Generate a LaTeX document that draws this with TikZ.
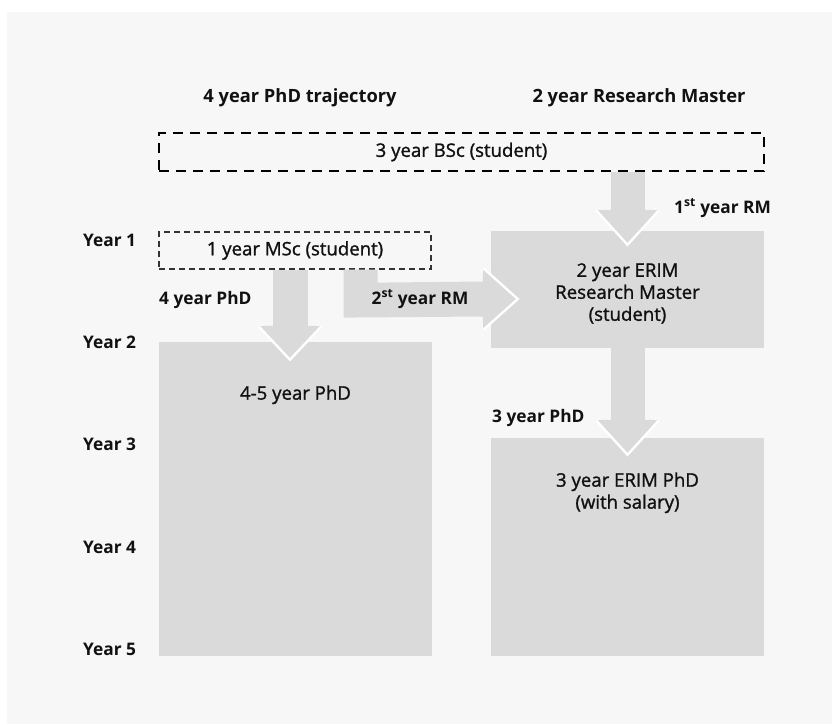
\documentclass[tikz,border=0pt]{standalone}
\usepackage{fontspec}
\setmainfont{Open Sans}
\newfontfamily\medfont[FakeBold=1.3]{Open Sans}
\usetikzlibrary{positioning,calc}

\definecolor{bggray}{HTML}{F7F7F7}
\definecolor{boxgray}{HTML}{DADADA}
\definecolor{inkblack}{HTML}{111111}

\tikzset{
    coltitle/.style={font=\bfseries\fontsize{18.3}{21}\selectfont, text=inkblack, inner sep=0pt},
    yearlabel/.style={font=\bfseries\fontsize{17.3}{20}\selectfont, text=inkblack, inner sep=0pt, anchor=west},
    flowlabel/.style={font=\bfseries\fontsize{17.3}{20}\selectfont, text=inkblack, inner sep=0pt},
    boxtext/.style={font=\medfont\fontsize{18.6}{22}\selectfont, text=inkblack, inner sep=0pt, align=center},
    dashbox/.style={draw=black, line width=1.9pt, dash pattern=on 10pt off 7pt, inner sep=0pt, font=\medfont\fontsize{18.6}{22}\selectfont, text=inkblack},
    thindashbox/.style={draw=black!80, line width=1.2pt, dash pattern=on 6pt off 4pt, inner sep=0pt, font=\medfont\fontsize{18.6}{22}\selectfont, text=inkblack},
    greybox/.style={fill=boxgray, inner sep=0pt},
    arrowbody/.style={fill=boxgray},
    arrowhalo/.style={draw=white, line width=5pt, line join=miter},
}

\begin{document}
\begin{tikzpicture}[x=1pt, y=-1pt]

    % canvas
    \useasboundingbox (0,0) rectangle (832,724);
    \fill [white] (0,0) rectangle (832,724);
    \fill [bggray] (7,12) rectangle (832,724);

    % column titles
    \node [coltitle] (phdtitle) at (300,98) {4 year PhD trajectory};
    \node [coltitle] (rmtitle) at (639,98) {2 year Research Master};

    % years
    \foreach \n/\y in {1/240, 2/342, 3/444, 4/547, 5/649}
        \node [yearlabel] (year\n) at (83,\y) {Year \n};

    % boxes
    \node [dashbox, minimum width=605pt, minimum height=38pt]
        (bsc) at (461.5,152) {3 year BSc (student)};
    \node [thindashbox, minimum width=272pt, minimum height=37pt]
        (msc) at (295,250.5) {1 year MSc (student)};
    \node [greybox, minimum width=273pt, minimum height=117pt]
        (rm) at (627.5,289.5) {};
    \node [greybox, minimum width=273pt, minimum height=314pt]
        (phd) at (295.5,499) {};
    \node [greybox, minimum width=273pt, minimum height=218pt]
        (erim) at (627.5,547) {};

    % bsc -> rm
    \fill [arrowbody]
        ($(bsc.south -| rm.north)+(-17,0)$)
        rectangle
        ($(rm.north)+(17,-19)$);
    \draw [arrowhalo]
        ($(rm.north)+(-30,-21)$) -- ($(rm.north)+(0,12)$) -- ($(rm.north)+(30,-21)$);
    \fill [arrowbody]
        ($(rm.north)+(-30,-21)$) -- ($(rm.north)+(0,12)$) -- ($(rm.north)+(30,-21)$) -- cycle;

    % msc -> phd
    \fill [arrowbody]
        ($(msc.south)+(-22,0)$)
        rectangle
        ($(phd.north)+(12,-14)$);
    \draw [arrowhalo]
        ($(phd.north)+(-35.5,-16)$) -- ($(phd.north)+(-5.5,16)$) -- ($(phd.north)+(24.5,-16)$);
    \fill [arrowbody]
        ($(phd.north)+(-35.5,-16)$) -- ($(phd.north)+(-5.5,16)$) -- ($(phd.north)+(24.5,-16)$) -- cycle;

    % msc -> rm
    \fill [arrowbody]
        ($(msc.south east)+(-88,0)$)
        -- ($(msc.south east)+(-54,0)$)
        -- ($(msc.south east)+(-54,13)$)
        -- ($(rm.west)+(-8,-8)$)
        -- ($(rm.west)+(-8,27)$)
        -- ($(msc.south east)+(-88,48)$)
        -- cycle;
    \draw [arrowhalo]
        ($(rm.west)+(-8,-20)$) -- ($(rm.west)+(25,9.5)$) -- ($(rm.west)+(-8,39)$);
    \fill [arrowbody]
        ($(rm.west)+(-8,-20)$) -- ($(rm.west)+(25,9.5)$) -- ($(rm.west)+(-8,39)$) -- cycle;

    % rm -> erim
    \fill [arrowbody]
        ($(rm.south)+(-17,0)$)
        rectangle
        ($(erim.north)+(17,-16)$);
    \draw [arrowhalo]
        ($(erim.north)+(-30,-18)$) -- ($(erim.north)+(0,15)$) -- ($(erim.north)+(30,-18)$);
    \fill [arrowbody]
        ($(erim.north)+(-30,-18)$) -- ($(erim.north)+(0,15)$) -- ($(erim.north)+(30,-18)$) -- cycle;

    % box texts
    \node [boxtext] (rmtext) at ($(rm.center)+(0,4)$)
        {2 year ERIM\\Research Master\\(student)};
    \node [boxtext] (phdtext) at ($(phd.north)+(0,53)$) {4-5 year PhD};
    \node [boxtext] (erimtext) at ($(erim.north)+(0,55)$)
        {3 year ERIM PhD\\(with salary)};

    % arrow labels
    \node [flowlabel, anchor=west] (lblphdfour) at (159,300) {4 year PhD};
    \node [flowlabel] (lblrmtwo) at (420,299) {2\textsuperscript{st} year RM};
    \node [flowlabel, anchor=west] (lblrmone) at (674,208) {1\textsuperscript{st} year RM};
    \node [flowlabel, anchor=west] (lblphdthree) at (492,418) {3 year PhD};

\end{tikzpicture}
\end{document}
